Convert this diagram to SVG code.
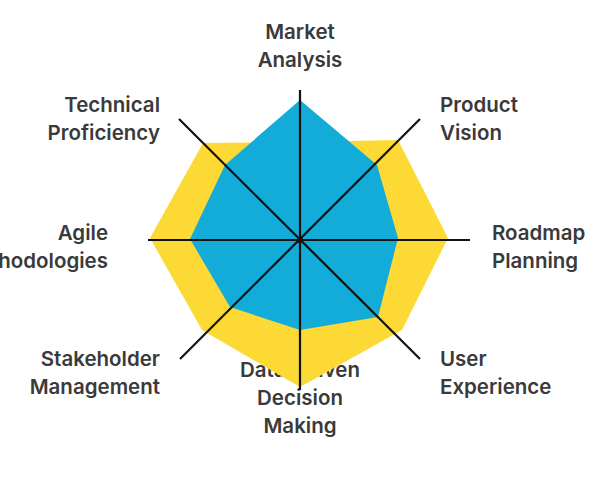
<svg xmlns="http://www.w3.org/2000/svg" width="600" height="480" viewBox="0 0 600 480">
<style>
text{font-family:Inter,"Open Sans",sans-serif;font-size:20.5px;fill:#3a3a3a;font-weight:600}
.ax{stroke:#111;stroke-width:2.2}
</style>
<rect width="600" height="480" fill="#fff"/>
<g id="label-data"><text x="300" y="377" text-anchor="middle">Data-Driven</text><text x="300" y="405" text-anchor="middle">Decision</text><text x="300" y="433" text-anchor="middle">Making</text></g>
<g id="area-max"><polygon points="300,142 398,140 448,238 402,330 300,387 202,330 150,238 203,143" fill="#fcd935"/></g>
<g id="area-value"><polygon points="300,100 377,165 398,238 378,317 300,330 230,307 190,239 225,165" fill="#13acd8"/></g>
<g id="connectors">
<line class="ax" x1="300" y1="90" x2="300" y2="390"/>
<line class="ax" x1="148" y1="240" x2="470" y2="240"/>
<line class="ax" x1="179" y1="119" x2="420" y2="359"/>
<line class="ax" x1="420" y1="119" x2="180" y2="359"/>
<circle cx="300" cy="240" r="3" fill="#111"/>
</g>
<g id="label-market"><text x="300" y="39" text-anchor="middle">Market</text><text x="300" y="67" text-anchor="middle">Analysis</text></g>
<g id="label-technical"><text x="160" y="112" text-anchor="end">Technical</text><text x="160" y="140" text-anchor="end">Proficiency</text></g>
<g id="label-product"><text x="440" y="112">Product</text><text x="440" y="140">Vision</text></g>
<g id="label-agile"><text x="108" y="240" text-anchor="end">Agile</text><text x="108" y="268" text-anchor="end">Methodologies</text></g>
<g id="label-roadmap"><text x="492" y="240">Roadmap</text><text x="492" y="268">Planning</text></g>
<g id="label-stakeholder"><text x="160" y="366" text-anchor="end">Stakeholder</text><text x="160" y="394" text-anchor="end">Management</text></g>
<g id="label-user"><text x="440" y="366">User</text><text x="440" y="394">Experience</text></g>
</svg>
